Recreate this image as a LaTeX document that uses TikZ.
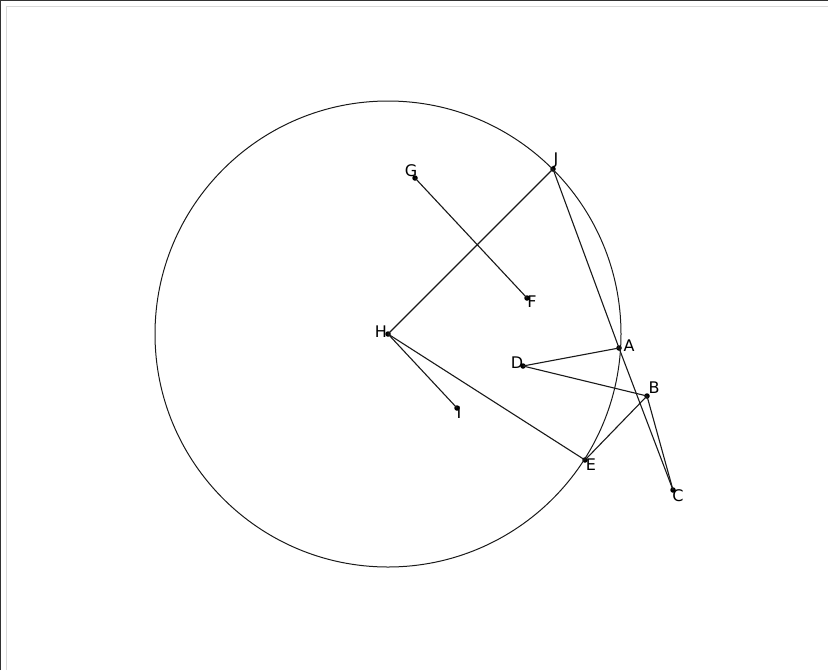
\documentclass[tikz,border=0pt]{standalone}
\usepackage{fontspec}
\setmainfont{DejaVu Sans}
\begin{document}
\begin{tikzpicture}[x=1pt,y=-1pt,
  seg/.style={draw=black!90,line width=1.1pt},
  pt/.style={circle,fill=black,inner sep=0pt,minimum size=5.5pt},
  lab/.style={font=\fontsize{16}{16}\selectfont,inner sep=0pt}]
\useasboundingbox (0,0) rectangle (828,670);
\fill[white] (0,0) rectangle (828,670);
\draw[black!80,line width=1.2pt] (0.6,670) -- (0.6,0.6) -- (828,0.6);
\draw[black!15,line width=0.6pt] (6,670) -- (6,6) -- (828,6);
% points
\node[pt] (H) at (388,334) {};
\node[pt] (J) at (553,169) {};
\node[pt] (G) at (415,178) {};
\node[pt] (F) at (527,298) {};
\node[pt] (A) at (619,348) {};
\node[pt] (D) at (523,366) {};
\node[pt] (B) at (647,396) {};
\node[pt] (E) at (585,460) {};
\node[pt] (C) at (673,490) {};
\node[pt] (I) at (457,408) {};
% circle
\draw[black!90,line width=1pt] (H) circle[radius=233];
% segments
\draw[seg] (H.center) -- (J.center);
\draw[seg] (H.center) -- (E.center);
\draw[seg] (H.center) -- (I.center);
\draw[seg] (G.center) -- (F.center);
\draw[seg] (J.center) -- (A.center);
\draw[seg] (A.center) -- (C.center);
\draw[seg] (D.center) -- (A.center);
\draw[seg] (D.center) -- (B.center);
\draw[seg] (E.center) -- (B.center);
\draw[seg] (B.center) -- (C.center);
% labels
\node[lab] (lJ) at (556,160) {J};
\node[lab] (lG) at (411,171) {G};
\node[lab] (lF) at (532,302) {F};
\node[lab] (lH) at (381,332) {H};
\node[lab] (lA) at (629,346) {A};
\node[lab] (lD) at (517,363) {D};
\node[lab] (lB) at (654,388) {B};
\node[lab] (lE) at (591,465) {E};
\node[lab] (lC) at (678,496) {C};
\node[lab] (lI) at (459,413) {I};
\end{tikzpicture}
\end{document}
